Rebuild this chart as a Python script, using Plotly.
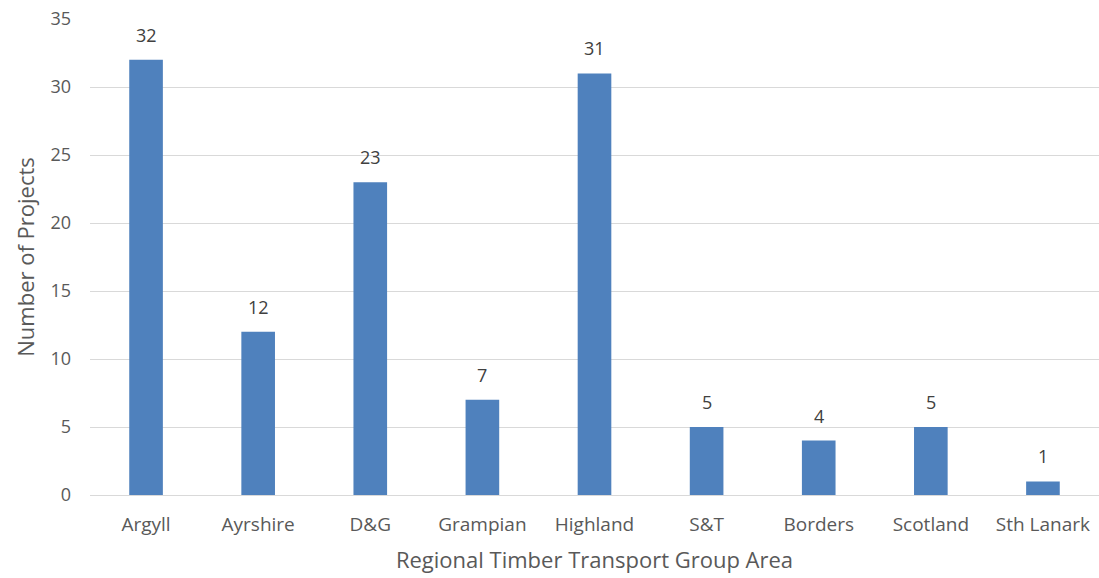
import plotly.graph_objects as go

categories = ["Argyll", "Ayrshire", "D&G", "Grampian", "Highland", "S&T", "Borders", "Scotland", "Sth Lanark"]
projects = [32, 12, 23, 7, 31, 5, 4, 5, 1]
y_ticks = [0, 5, 10, 15, 20, 25, 30, 35]

FONT = "Open Sans, sans-serif"
GRAY = "#595959"

fig = go.Figure(go.Bar(
    x=categories, y=projects,
    marker=dict(color="#4F81BD", line=dict(width=0)),
    cliponaxis=False,
))

for c, v in zip(categories, projects):
    fig.add_annotation(x=c, y=v, text=str(v), showarrow=False, yanchor="bottom",
                       yshift=11, font=dict(family=FONT, size=18, color="#404040"))

fig.update_layout(
    width=1099, height=578,
    margin=dict(l=90, r=0, t=19, b=83),
    plot_bgcolor="white", paper_bgcolor="white",
    bargap=0.7,
    showlegend=False,
    font=dict(family=FONT, size=16, color=GRAY),
)
fig.update_xaxes(
    range=[-0.5, 8.5], showgrid=False, showline=True, linecolor="#D9D9D9", linewidth=1,
    ticks="", ticklabelstandoff=12, tickfont=dict(family=FONT, size=19, color=GRAY),
    title=dict(text="Regional Timber Transport Group Area", font=dict(family=FONT, size=22, color=GRAY), standoff=16),
)
fig.update_yaxes(
    range=[0, 35], tickvals=y_ticks, showgrid=True, gridcolor="#D9D9D9", gridwidth=1,
    zeroline=False, ticks="", ticklen=0, ticklabelstandoff=18,
    tickfont=dict(family=FONT, size=18, color=GRAY),
    title=dict(text="Number of Projects", font=dict(family=FONT, size=22, color=GRAY), standoff=9),
)

fig.write_html("out.html")
